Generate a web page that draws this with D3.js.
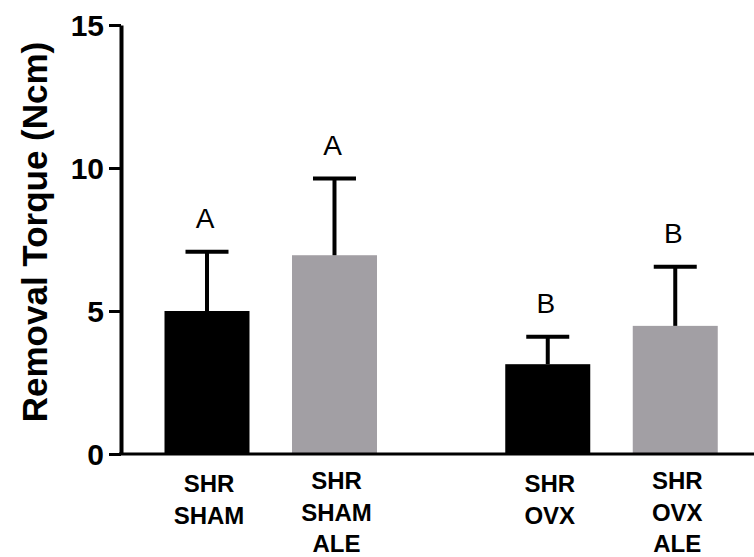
<!DOCTYPE html>
<html>
<head>
<meta charset="utf-8">
<script src="https://cdn.jsdelivr.net/npm/d3@7"></script>
<style>
  html, body { margin: 0; padding: 0; background: #fff; }
  svg { display: block; }
</style>
</head>
<body>
<svg id="chart" width="754" height="557"></svg>
<script>
// ---- data ----
const groups = ["SHAM", "OVX"];
const treatments = ["Control", "ALE"];
const barGroup = ["SHAM", "SHAM", "OVX", "OVX"];
const barTreatment = ["Control", "ALE", "Control", "ALE"];
const categoryLabels = [["SHR", "SHAM"], ["SHR", "SHAM", "ALE"], ["SHR", "OVX"], ["SHR", "OVX", "ALE"]];
const means = [5.0, 6.95, 3.14, 4.48];
const sds = [2.07, 2.68, 0.96, 2.07];
const letters = ["A", "A", "B", "B"];
const yTicks = [0, 5, 10, 15];
const yTitle = "Removal Torque (Ncm)";
const colors = { Control: "#000000", ALE: "#a29fa4" };

// ---- layout ----
const FONT = "Arial, 'Liberation Sans', sans-serif";
const svg = d3.select("#chart");
const axisX = 121, zeroY = 454, topY = 25;

const y = d3.scaleLinear().domain([0, 15]).range([zeroY, topY]);

const xOuter = d3.scaleBand().domain(groups)
  .range([axisX, 761.25]).paddingInner(0.2517).paddingOuter(0.0653);
const xInner = d3.scaleBand().domain(treatments)
  .range([0, xOuter.bandwidth()]).paddingInner(1 / 3).paddingOuter(1 / 6);

const bars = means.map((m, i) => ({
  mean: m, sd: sds[i], letter: letters[i], lines: categoryLabels[i],
  x: xOuter(barGroup[i]) + xInner(barTreatment[i]),
  color: colors[barTreatment[i]]
}));
const bw = xInner.bandwidth();
const capW = 43;

// bars
svg.append("g").selectAll("rect").data(bars).join("rect")
  .attr("x", d => d.x).attr("width", bw)
  .attr("y", d => y(d.mean)).attr("height", d => y(0) - y(d.mean))
  .attr("fill", d => d.color);

// error bars
const eb = svg.append("g").attr("stroke", "#000").attr("stroke-width", 4);
eb.selectAll("line.stem").data(bars).join("line").attr("class", "stem")
  .attr("x1", d => d.x + bw / 2).attr("x2", d => d.x + bw / 2)
  .attr("y1", d => y(d.mean)).attr("y2", d => y(d.mean + d.sd));
eb.selectAll("line.cap").data(bars).join("line").attr("class", "cap")
  .attr("x1", d => d.x + bw / 2 - capW / 2).attr("x2", d => d.x + bw / 2 + capW / 2)
  .attr("y1", d => y(d.mean + d.sd)).attr("y2", d => y(d.mean + d.sd));

// significance letters
svg.append("g").selectAll("text").data(bars).join("text")
  .attr("x", d => d.x + bw / 2 - 2)
  .attr("y", d => y(d.mean + d.sd) - 24)
  .attr("text-anchor", "middle")
  .attr("font-family", FONT).attr("font-size", 28).attr("fill", "#000")
  .text(d => d.letter);

// y axis
const yAxis = svg.append("g").attr("transform", `translate(${axisX},0)`)
  .call(d3.axisLeft(y).tickValues(yTicks).tickSize(12).tickSizeOuter(0).tickPadding(5));
yAxis.select(".domain").attr("stroke", "#000").attr("stroke-width", 4);
yAxis.selectAll(".tick line").attr("stroke", "#000").attr("stroke-width", 3);
yAxis.selectAll(".tick text")
  .attr("font-family", FONT).attr("font-size", 30).attr("font-weight", "bold")
  .attr("fill", "#000").attr("dy", "0.36em");

// x axis line
const xAxis = svg.append("g").attr("transform", `translate(0,${zeroY})`)
  .call(d3.axisBottom(xOuter).tickSize(0).tickSizeOuter(0).tickFormat(""));
xAxis.select(".domain").attr("stroke", "#000").attr("stroke-width", 3)
  .attr("d", `M${axisX - 2},0H754`);

// category labels
const lab = svg.append("g").attr("font-family", FONT).attr("font-size", 24)
  .attr("font-weight", "bold").attr("fill", "#000").attr("text-anchor", "middle");
bars.forEach(d => {
  const first = d.lines.length === 3 ? 489 : 492;
  const t = lab.append("text").attr("x", d.x + bw / 2 + 2);
  d.lines.forEach((ln, j) => {
    t.append("tspan").attr("x", d.x + bw / 2 + 2).attr("y", first + j * 31.5).text(ln);
  });
});

// y title
svg.append("text")
  .attr("transform", "translate(47,232) rotate(-90)")
  .attr("text-anchor", "middle")
  .attr("font-family", FONT).attr("font-size", 35).attr("font-weight", "bold")
  .attr("fill", "#000")
  .text(yTitle);
</script>
</body>
</html>
